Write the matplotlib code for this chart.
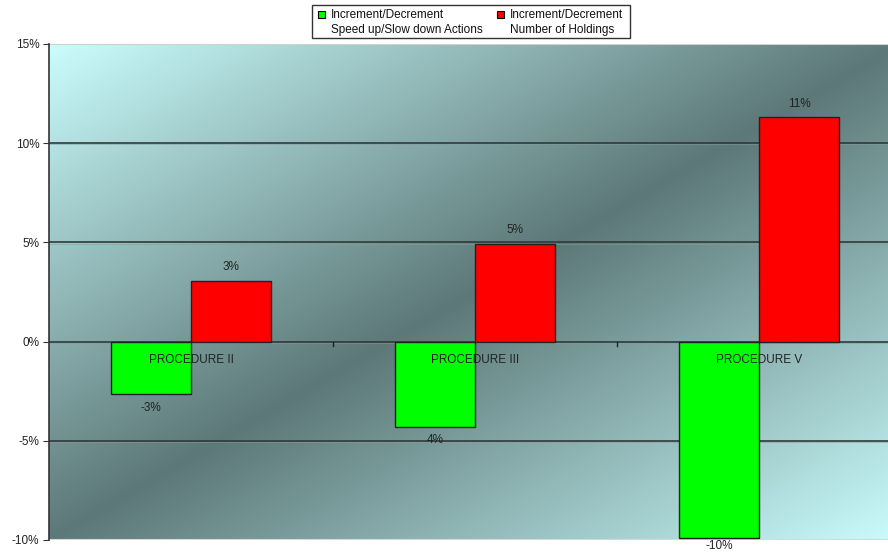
import matplotlib.pyplot as plt
import matplotlib.patches as mpatches
from matplotlib.colors import LinearSegmentedColormap
import numpy as np

plt.rcParams['font.family'] = ['Liberation Sans', 'DejaVu Sans']

categories = ['PROCEDURE II', 'PROCEDURE III', 'PROCEDURE V']
speed_vals = [-2.64, -4.28, -9.88]       # green series, %
holdings_vals = [3.04, 4.92, 11.30]      # red series, %
speed_labels = ['-3%', '4%', '-10%']
holdings_labels = ['3%', '5%', '11%']
legend_lines = [['Increment/Decrement', 'Speed up/Slow down Actions'],
                ['Increment/Decrement', 'Number of Holdings']]

fig = plt.figure(figsize=(8.88, 5.54), dpi=100)
ax = fig.add_axes([49/888, 1-540/554, 852/888, 496/554])

# diagonal gradient background: light corners top-left / bottom-right, dark band between
cmap = LinearSegmentedColormap.from_list('bg', ['#5d7878', '#cbfdfd'])
u = np.linspace(0, 1, 400)
vv = np.linspace(0, 1, 300)
U, V = np.meshgrid(u, vv)
grad = np.abs(U + V - 1)
ax.imshow(grad, cmap=cmap, extent=[-0.5, 2.5, -10, 15], aspect='auto',
          origin='upper', zorder=0, vmin=0, vmax=1)

ax.set_xlim(-0.5, 2.5)
ax.set_ylim(-10, 15)

for y in [-5, 0, 5, 10]:
    ax.axhline(y, color='#2f3a3a', lw=1.2, zorder=1)
    ax.axhline(y - 0.06, color='#8a9a9a', lw=0.6, alpha=0.6, zorder=1)
ax.axhline(-10, color='#d8d8d8', lw=1.5, zorder=1)
ax.axhline(15, color='#d0d0d0', lw=1.5, zorder=1)

x = np.arange(len(categories))
w = 0.282
ax.bar(x - w, speed_vals, w, align='edge', color='#00ff00', edgecolor='#222222', lw=1, zorder=3)
ax.bar(x, holdings_vals, w, align='edge', color='#ff0000', edgecolor='#222222', lw=1, zorder=3)

for i in range(len(categories)):
    ly = max(speed_vals[i] - 0.7, -10.3)
    ax.text(x[i] - w/2, ly, speed_labels[i], ha='center', va='center', fontsize=8.5,
            color='#222222', zorder=4, clip_on=False)
    ax.annotate(holdings_labels[i], (x[i] + w/2, holdings_vals[i]), xytext=(0, 10),
                textcoords='offset points', ha='center', va='center', fontsize=8.5, color='#222222', zorder=4)
    ax.annotate(categories[i], (x[i], 0), xytext=(0, -13), textcoords='offset points',
                ha='center', va='center', fontsize=8.5, color='#222222', zorder=4)

for s in ['top', 'right', 'bottom']:
    ax.spines[s].set_visible(False)
ax.spines['left'].set_color('#333333')
ax.spines['left'].set_linewidth(1.2)

ax.set_yticks([-10, -5, 0, 5, 10, 15])
ax.set_yticklabels(['-10%', '-5%', '0%', '5%', '10%', '15%'], fontsize=8.5, color='#222222')
ax.tick_params(axis='y', length=4, color='#333333', pad=3)
ax.set_xticks([])
# category separators on the zero line
for xb in [0.5, 1.5]:
    ax.plot([xb, xb], [0, -0.2], color='#222222', lw=1, zorder=2, clip_on=False)

# legend box drawn by hand (two-line entries)
fig.patches.append(mpatches.Rectangle((312/888, 1-38/554), 318/888, 33/554, transform=fig.transFigure,
                                      facecolor='white', edgecolor='#333333', lw=1))
lx = [318, 497]
lcol = ['#00ff00', '#ff0000']
for j in range(2):
    fig.patches.append(mpatches.Rectangle((lx[j]/888, 1-18/554), 7/888, 7/554, transform=fig.transFigure,
                                          facecolor=lcol[j], edgecolor='black', lw=0.8))
    fig.text((lx[j]+13)/888, 1-14.5/554, legend_lines[j][0], fontsize=8.5, va='center', ha='left', color='#111111')
    fig.text((lx[j]+13)/888, 1-29.5/554, legend_lines[j][1], fontsize=8.5, va='center', ha='left', color='#111111')

fig.savefig('out.png', dpi=100)
